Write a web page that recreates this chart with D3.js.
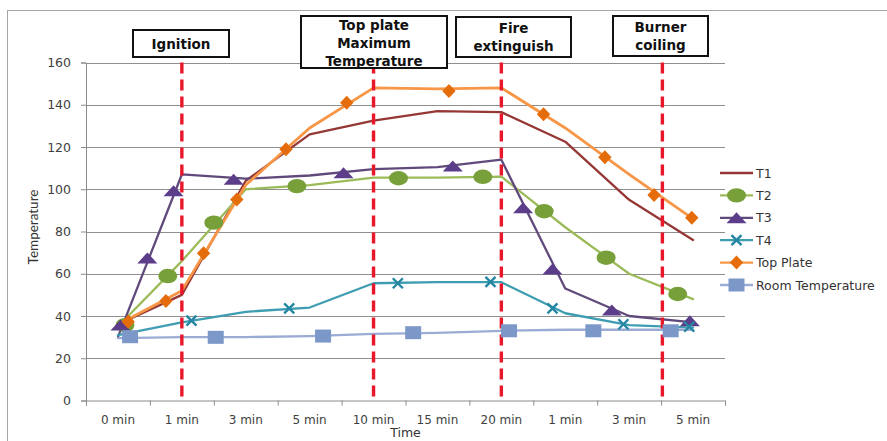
<!DOCTYPE html>
<html>
<head>
<meta charset="utf-8">
<script src="https://cdn.jsdelivr.net/npm/d3@7"></script>
<style>
  html, body { margin: 0; padding: 0; background: #fff; }
  svg { display: block; }
</style>
</head>
<body>
<svg id="chart" width="887" height="441"></svg>
<script>
// ---- data ---------------------------------------------------------------
const categories = ["0 min", "1 min", "3 min", "5 min", "10 min", "15 min", "20 min", "1 min", "3 min", "5 min"];
const yTicks = [0, 20, 40, 60, 80, 100, 120, 140, 160];

// temperature at each time step
const t1 = [36, 50, 104, 126, 132.5, 137, 136.5, 122.5, 95, 76];
const t2 = [35, 66, 100, 102, 105.5, 105.5, 106, 82, 60, 48];
const t3 = [30, 107, 105, 106.5, 109.5, 110.5, 114, 53, 40, 37];
const t4 = [31, 37, 42, 44, 55.5, 56, 56, 41.3, 35.7, 34.5];
const topPlate = [36, 52, 102, 129, 148, 147.5, 148, 129, 107, 86];
const roomTemp = [29.5, 30, 30, 30.5, 31.5, 32, 33, 33.5, 33.5, 33.5];

// marker readings: [position along the time axis (category units), temperature]
const t2Marks = [[0.61, 35.7], [1.28, 58.9], [2.00, 84.2], [3.30, 101.5], [4.89, 105.2], [6.21, 105.9], [7.17, 89.6], [8.14, 67.6], [9.26, 50.4]];
const t3Marks = [[0.54, 35.7], [0.96, 67.5], [1.37, 99.3], [2.31, 104.7], [4.03, 107.8], [5.74, 111], [6.84, 91.3], [7.30, 62.3], [8.23, 42.8], [9.45, 37.8]];
const t4Marks = [[1.65, 37.8], [3.18, 43.6], [4.88, 55.5], [6.33, 56.2], [7.30, 43.6], [8.41, 36.1], [9.44, 34.9]];
const topPlateMarks = [[0.66, 37.3], [1.25, 47.1], [1.84, 69.7], [2.36, 95.2], [3.13, 118.9], [4.08, 141], [5.68, 146.5], [7.16, 135.5], [8.12, 115.1], [8.89, 97.3], [9.48, 86.5]];
const roomMarks = [[0.69, 30.2], [2.03, 29.9], [3.71, 30.5], [5.12, 32.1], [6.62, 33.0], [7.94, 33.0], [9.15, 33.0]];

// process events and where they happen on the time axis
const eventNames = [["Ignition"], ["Top plate", "Maximum", "Temperature"], ["Fire", "extinguish"], ["Burner", "coiling"]];
const eventAt = [1.5, 4.5, 6.5, 9.02];

// ---- layout -------------------------------------------------------------
const svg = d3.select("#chart");
const plot = { left: 86, right: 725, top: 62.5, bottom: 400.5 };

const x = d3.scaleLinear().domain([0, categories.length]).range([plot.left, plot.right]);
const xBand = d3.scaleBand().domain(d3.range(categories.length)).range([plot.left, plot.right]);
const y = d3.scaleLinear().domain([0, 160]).range([plot.bottom, plot.top]);

const series = [
  { name: "T1", values: t1, marks: [], line: "#953735", fill: "#953735", shape: "none" },
  { name: "T2", values: t2, marks: t2Marks, line: "#9bbb59", fill: "#77a03a", shape: "ellipse" },
  { name: "T3", values: t3, marks: t3Marks, line: "#604a7b", fill: "#5b3d8a", shape: "triangle" },
  { name: "T4", values: t4, marks: t4Marks, line: "#3f9db2", fill: "#2586a3", shape: "cross" },
  { name: "Top Plate", values: topPlate, marks: topPlateMarks, line: "#f79646", fill: "#e46c0a", shape: "diamond" },
  { name: "Room Temperature", values: roomTemp, marks: roomMarks, line: "#9aacd4", fill: "#7c98c9", shape: "square" }
];

// outer chart frame
svg.append("rect")
  .attr("x", 7.5).attr("y", 10.5)
  .attr("width", 1000).attr("height", 1000)
  .attr("fill", "none").attr("stroke", "#a6a6a6").attr("stroke-width", 1);

// horizontal gridlines
svg.append("g").selectAll("line").data(yTicks.filter(d => d > 0)).join("line")
  .attr("x1", plot.left).attr("x2", plot.right)
  .attr("y1", d => Math.round(y(d)) + 0.5).attr("y2", d => Math.round(y(d)) + 0.5)
  .attr("stroke", "#8f8f8f").attr("stroke-width", 1);

// y axis
const yAxis = svg.append("g")
  .attr("transform", `translate(${plot.left},0)`)
  .call(d3.axisLeft(y).tickValues(yTicks).tickSize(5).tickPadding(10));
yAxis.selectAll("path, line").attr("stroke", "#8a8a8a");
yAxis.selectAll("text")
  .attr("font-family", "DejaVu Sans, Verdana, sans-serif")
  .attr("font-size", 12.5).attr("fill", "#404040");

// x axis: tick marks between categories, labels centred in each category
const xTickAxis = svg.append("g")
  .attr("transform", `translate(0,${plot.bottom})`)
  .call(d3.axisBottom(x).tickValues(d3.range(categories.length + 1)).tickSize(5).tickFormat(""));
xTickAxis.selectAll("path, line").attr("stroke", "#8a8a8a");

const xLabelAxis = svg.append("g")
  .attr("transform", `translate(0,${plot.bottom})`)
  .call(d3.axisBottom(xBand).tickSize(0).tickPadding(15).tickFormat(i => categories[i]));
xLabelAxis.select(".domain").remove();
xLabelAxis.selectAll("text")
  .attr("font-family", "DejaVu Sans, Verdana, sans-serif")
  .attr("font-size", 12).attr("fill", "#404040");

// axis titles
svg.append("text")
  .attr("x", (plot.left + plot.right) / 2).attr("y", 437)
  .attr("text-anchor", "middle")
  .attr("font-family", "DejaVu Sans, Verdana, sans-serif").attr("font-size", 12.5)
  .attr("fill", "#333").text("Time");
svg.append("text")
  .attr("transform", `translate(33,227) rotate(-90)`)
  .attr("text-anchor", "middle").attr("dominant-baseline", "central")
  .attr("font-family", "Lato, sans-serif").attr("font-size", 13.5)
  .attr("fill", "#333").text("Temperature");

// series lines, drawn through the category centres
const line = d3.line().x((d, i) => x(i + 0.5)).y(d => y(d));
svg.append("g").selectAll("path").data(series).join("path")
  .attr("d", s => line(s.values))
  .attr("fill", "none")
  .attr("stroke", s => s.line)
  .attr("stroke-width", s => s.name === "Top Plate" ? 2.8 : 2.3)
  .attr("stroke-linejoin", "round").attr("stroke-linecap", "round");

// event markers: red dashed verticals
svg.append("g").selectAll("line").data(eventAt).join("line")
  .attr("x1", d => x(d)).attr("x2", d => x(d))
  .attr("y1", plot.top).attr("y2", plot.bottom)
  .attr("stroke", "#e8182a").attr("stroke-width", 3.4)
  .attr("stroke-dasharray", "11,6");

// marker shapes
function drawMarker(g, shape, color) {
  if (shape === "ellipse") {
    g.append("ellipse").attr("rx", 9.5).attr("ry", 7.2).attr("fill", color);
  } else if (shape === "triangle") {
    g.append("path").attr("d", "M-10,5.5L0,-5.5L10,5.5Z").attr("fill", color);
  } else if (shape === "diamond") {
    g.append("path").attr("d", "M0,-7L6.7,0L0,7L-6.7,0Z").attr("fill", color);
  } else if (shape === "square") {
    g.append("rect").attr("x", -8).attr("y", -6.5).attr("width", 16).attr("height", 13).attr("fill", color);
  } else if (shape === "cross") {
    g.append("path").attr("d", "M-5,-5L5,5M-5,5L5,-5")
      .attr("stroke", color).attr("stroke-width", 2.4).attr("fill", "none");
  }
}

series.forEach(s => {
  const gm = svg.append("g");
  s.marks.forEach(([pos, v]) => {
    const g = gm.append("g").attr("transform", `translate(${x(pos)},${y(v)})`);
    drawMarker(g, s.shape, s.fill);
  });
});

// legend
const legend = svg.append("g").attr("transform", "translate(720,173)");
series.forEach((s, i) => {
  const row = legend.append("g").attr("transform", `translate(0,${i * 22.4})`);
  row.append("line").attr("x1", 0).attr("x2", 33).attr("y1", 0).attr("y2", 0)
    .attr("stroke", s.line).attr("stroke-width", 2.3);
  const m = row.append("g").attr("transform", "translate(16.5,0)");
  drawMarker(m, s.shape, s.fill);
  row.append("text").attr("x", 36).attr("y", 0).attr("dominant-baseline", "central")
    .attr("font-family", "DejaVu Sans, Verdana, sans-serif").attr("font-size", 12.5)
    .attr("fill", "#333").text(s.name);
});

// event label boxes
const boxes = [
  { x: 133, y: 30, w: 96, h: 27 },
  { x: 301, y: 16, w: 146, h: 52 },
  { x: 456, y: 17, w: 115, h: 40 },
  { x: 613, y: 16, w: 95, h: 40 }
];
eventNames.forEach((lines, i) => {
  const b = boxes[i];
  const g = svg.append("g");
  g.append("rect").attr("x", b.x).attr("y", b.y).attr("width", b.w).attr("height", b.h)
    .attr("fill", "#fff").attr("stroke", "#111").attr("stroke-width", 2);
  const lh = 17.8;
  const cy = b.y + b.h / 2 + (lines.length === 3 ? 1 : 0);
  lines.forEach((t, k) => {
    g.append("text")
      .attr("x", b.x + b.w / 2)
      .attr("y", cy + (k - (lines.length - 1) / 2) * lh)
      .attr("text-anchor", "middle").attr("dominant-baseline", "central")
      .attr("font-family", "DejaVu Sans, Verdana, sans-serif").attr("font-weight", "bold")
      .attr("font-size", 13.5).attr("fill", "#111").text(t);
  });
});
</script>
</body>
</html>
